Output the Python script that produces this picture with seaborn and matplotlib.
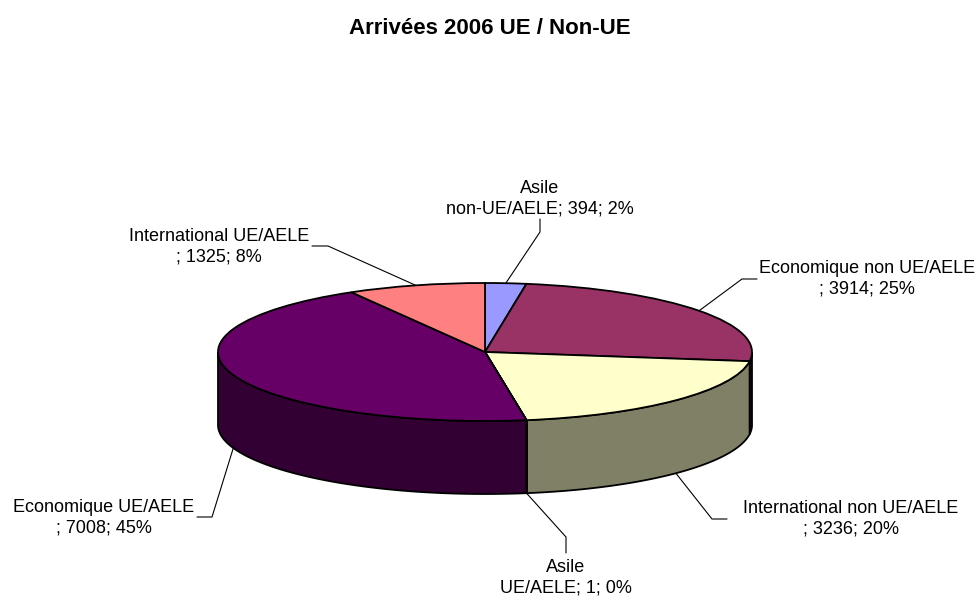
import numpy as np
import matplotlib
matplotlib.use("Agg")
import matplotlib.pyplot as plt
import matplotlib.colors as mcolors
from matplotlib.patches import Polygon
import seaborn as sns

# Data
categories = ["Asile\nnon-UE/AELE", "Economique non UE/AELE\n", "International non UE/AELE\n",
              "Asile\nUE/AELE", "Economique UE/AELE\n", "International UE/AELE\n"]
values = [394, 3914, 3236, 1, 7008, 1325]
percents = [2, 25, 20, 0, 45, 8]
colors = ["#9999FF", "#993366", "#FFFFCC", "#CCFFFF", "#660066", "#FF8080"]
title = "Arrivées 2006 UE / Non-UE"

# Layout (pixels from top-left): label centres and leader elbows
label_pos = [(540, 199), (867, 279), (851, 519), (566, 578), (104, 518), (219, 247)]
elbows = [[(540, 219), (540, 232)], [(757, 279), (742, 279)], [(727, 519), (712, 519)],
          [(566, 553), (566, 537)], [(197, 517), (212, 517)], [(312, 246), (328, 246)]]

sns.set_theme(style="white")
plt.rcParams['font.family'] = ['Liberation Sans', 'DejaVu Sans']
plt.rcParams['text.color'] = 'black'

W, H = 980, 600
fig = plt.figure(figsize=(W / 100, H / 100), dpi=100)
fig.patch.set_facecolor('white')

over = fig.add_axes([0, 0, 1, 1])
over.set_xlim(0, W)
over.set_ylim(H, 0)
over.axis('off')

# pie geometry: ellipse centre / radii in pixels, depth of the side
cx, cy, rx, ry = 485, 352, 267, 69
depth = 73 / ry
pad = 0.03
xl = (-1 - pad, 1 + pad)
yl = (-1 - depth - pad, 1 + pad)
ax = fig.add_axes([(cx - rx * (1 + pad)) / W, (H - cy - ry * (1 + depth + pad)) / H,
                   2 * rx * (1 + pad) / W, ry * (2 + depth + 2 * pad) / H])

wedges, _ = ax.pie(values, colors=colors, startangle=90, counterclock=False, radius=1,
                   wedgeprops=dict(edgecolor='black', linewidth=1.3))
ax.set_aspect('auto')
ax.set_xlim(xl)
ax.set_ylim(yl)
ax.axis('off')

# extruded side for the front half
for w, c in zip(wedges, colors):
    t1 = w.theta1 % 360
    t2 = t1 + (w.theta2 - w.theta1)
    for lo, hi in [(180, 360), (540, 720)]:
        a, b = max(t1, lo), min(t2, hi)
        if b - a <= 0:
            continue
        t = np.radians(np.linspace(a, b, 120))
        top = np.column_stack([np.cos(t), np.sin(t)])
        bot = np.column_stack([np.cos(t[::-1]), np.sin(t[::-1]) - depth])
        side = 0.5 * np.array(mcolors.to_rgb(c))
        ax.add_patch(Polygon(np.vstack([top, bot]), closed=True, facecolor=side,
                             edgecolor='black', lw=1.3, zorder=0.5))

# labels and leader lines
for w, cat, v, p, (lx, ly), elb in zip(wedges, categories, values, percents, label_pos, elbows):
    tm = np.radians((w.theta1 + w.theta2) / 2)
    x, y = np.cos(tm), np.sin(tm)
    if y < 0:
        y -= depth
    dx, dy = ax.transData.transform((x, y))
    pts = elb + [(dx, H - dy)]
    over.plot([q[0] for q in pts], [q[1] for q in pts], color='black', lw=0.8)
    over.text(lx, ly, f"{cat}; {v}; {p}%", ha='center', va='center', multialignment='center',
              fontsize=13, linespacing=1.3, color='black')

over.text(490, 28, title, ha='center', va='center', fontsize=16, fontweight='bold', color='black')

fig.savefig("out.png", dpi=100, facecolor='white')
